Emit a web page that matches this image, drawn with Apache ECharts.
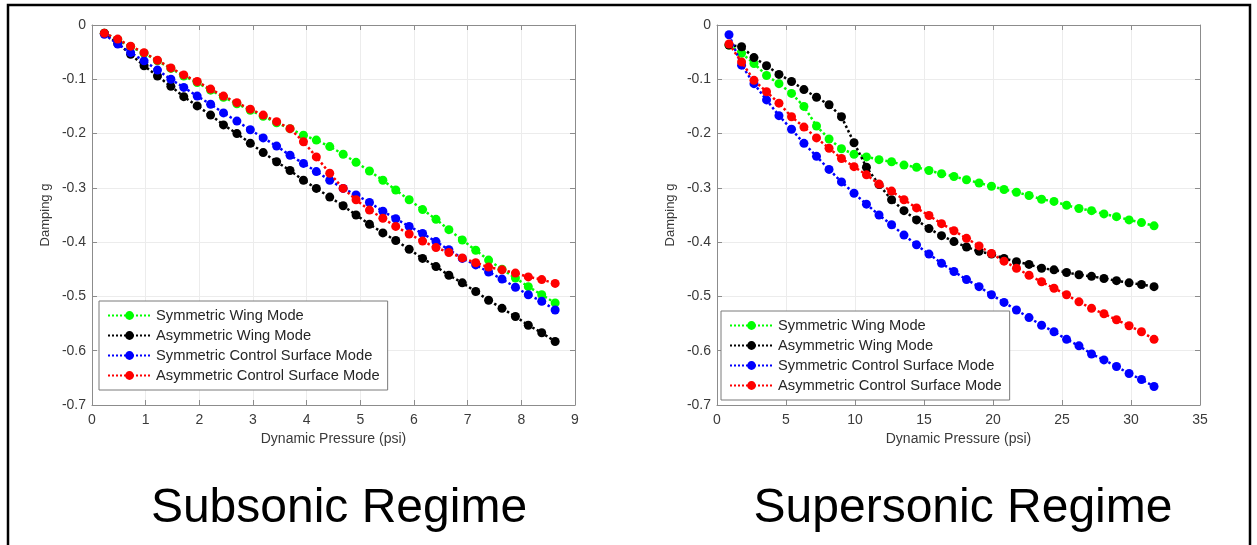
<!DOCTYPE html>
<html>
<head>
<meta charset="utf-8">
<script src="https://cdn.jsdelivr.net/npm/echarts@6/dist/echarts.min.js"></script>
<style>
html,body{margin:0;padding:0;background:#fff;}
#chart{width:1257px;height:545px;}
</style>
</head>
<body>
<div id="chart"></div>
<script>
// ---------- DATA ----------
var seriesNames = ['Symmetric Wing Mode', 'Asymmetric Wing Mode', 'Symmetric Control Surface Mode', 'Asymmetric Control Surface Mode'];
var seriesColors = ['#00ff00', '#000000', '#0000ff', '#ff0000'];

var panelTitles = ['Subsonic Regime', 'Supersonic Regime'];
var xAxisName = 'Dynamic Pressure (psi)';
var yAxisName = 'Damping g';

// Subsonic regime
var subX = [0.23,0.48,0.72,0.97,1.22,1.47,1.71,1.96,2.21,2.45,2.70,2.95,3.19,3.44,3.69,3.94,4.18,4.43,4.68,4.92,5.17,5.42,5.66,5.91,6.16,6.41,6.65,6.90,7.15,7.39,7.64,7.89,8.13,8.38,8.63];
var subSymWing = [-0.015,-0.027,-0.040,-0.052,-0.066,-0.080,-0.094,-0.106,-0.120,-0.133,-0.145,-0.157,-0.168,-0.180,-0.191,-0.203,-0.212,-0.224,-0.238,-0.253,-0.269,-0.286,-0.304,-0.322,-0.340,-0.358,-0.377,-0.396,-0.415,-0.433,-0.450,-0.466,-0.482,-0.497,-0.512];
var subAsymWing = [-0.015,-0.034,-0.054,-0.075,-0.094,-0.113,-0.132,-0.149,-0.166,-0.184,-0.200,-0.218,-0.235,-0.252,-0.268,-0.286,-0.301,-0.317,-0.333,-0.350,-0.367,-0.383,-0.397,-0.413,-0.430,-0.445,-0.461,-0.475,-0.491,-0.507,-0.522,-0.537,-0.553,-0.567,-0.583];
var subSymCtrl = [-0.017,-0.035,-0.051,-0.066,-0.083,-0.100,-0.115,-0.131,-0.146,-0.162,-0.177,-0.193,-0.208,-0.223,-0.240,-0.255,-0.270,-0.286,-0.301,-0.313,-0.327,-0.343,-0.357,-0.371,-0.384,-0.399,-0.414,-0.430,-0.442,-0.455,-0.468,-0.483,-0.497,-0.509,-0.525];
var subAsymCtrl = [-0.015,-0.026,-0.039,-0.051,-0.065,-0.079,-0.092,-0.104,-0.118,-0.131,-0.143,-0.155,-0.166,-0.178,-0.191,-0.215,-0.243,-0.273,-0.301,-0.322,-0.341,-0.356,-0.371,-0.385,-0.398,-0.410,-0.419,-0.429,-0.438,-0.446,-0.451,-0.457,-0.464,-0.469,-0.476];

// Supersonic regime
var supX = [0.87,1.78,2.68,3.59,4.49,5.40,6.30,7.21,8.12,9.02,9.93,10.83,11.74,12.65,13.55,14.46,15.36,16.27,17.17,18.08,18.99,19.89,20.80,21.70,22.61,23.52,24.42,25.33,26.23,27.14,28.04,28.95,29.86,30.76,31.67];
var supSymWing = [-0.037,-0.052,-0.071,-0.093,-0.108,-0.126,-0.150,-0.186,-0.210,-0.228,-0.238,-0.243,-0.248,-0.252,-0.258,-0.262,-0.268,-0.274,-0.279,-0.285,-0.291,-0.297,-0.303,-0.308,-0.314,-0.321,-0.325,-0.332,-0.338,-0.342,-0.348,-0.353,-0.359,-0.364,-0.370];
var supAsymWing = [-0.037,-0.040,-0.060,-0.075,-0.091,-0.104,-0.119,-0.133,-0.147,-0.169,-0.217,-0.262,-0.294,-0.322,-0.342,-0.359,-0.375,-0.388,-0.399,-0.409,-0.417,-0.422,-0.430,-0.436,-0.441,-0.448,-0.451,-0.456,-0.460,-0.463,-0.467,-0.471,-0.475,-0.478,-0.482];
var supSymCtrl = [-0.018,-0.074,-0.108,-0.138,-0.167,-0.192,-0.218,-0.242,-0.266,-0.289,-0.310,-0.330,-0.350,-0.368,-0.387,-0.405,-0.422,-0.439,-0.454,-0.469,-0.482,-0.497,-0.511,-0.525,-0.539,-0.553,-0.565,-0.579,-0.591,-0.606,-0.617,-0.629,-0.642,-0.653,-0.666];
var supAsymCtrl = [-0.035,-0.068,-0.102,-0.123,-0.144,-0.169,-0.188,-0.208,-0.227,-0.246,-0.261,-0.276,-0.293,-0.306,-0.322,-0.337,-0.351,-0.366,-0.379,-0.393,-0.407,-0.421,-0.435,-0.448,-0.461,-0.473,-0.485,-0.497,-0.510,-0.522,-0.532,-0.543,-0.554,-0.565,-0.579];

var subXTicks = {min: 0, max: 9, interval: 1};
var supXTicks = {min: 0, max: 35, interval: 5};
var yTicks = {min: -0.7, max: 0, interval: 0.1};

// ---------- BUILD ----------
var panels = [
  {x: subX, ys: [subSymWing, subAsymWing, subSymCtrl, subAsymCtrl], xt: subXTicks, left: 92, legendLeft: 99, legendTop: 301, titleX: 339},
  {x: supX, ys: [supSymWing, supAsymWing, supSymCtrl, supAsymCtrl], xt: supXTicks, left: 717, legendLeft: 721, legendTop: 311, titleX: 963}
];

var FONT = '"Liberation Sans", Arial, Helvetica, sans-serif';
var axisGray = '#8c8c8c';
var labelColor = '#3a3a3a';
var gridColor = '#ececec';

var option = {
  animation: false,
  backgroundColor: '#ffffff',
  textStyle: {fontFamily: FONT},
  grid: [], xAxis: [], yAxis: [], series: [], legend: [], graphic: []
};

panels.forEach(function (p, pi) {
  option.grid.push({left: p.left, top: 25, width: 483, height: 380, show: false});
  option.xAxis.push({
    gridIndex: pi, type: 'value', position: 'bottom',
    min: p.xt.min, max: p.xt.max, interval: p.xt.interval,
    name: xAxisName, nameLocation: 'middle', nameGap: 26,
    nameTextStyle: {fontSize: 14, color: labelColor, fontFamily: FONT},
    axisLine: {show: true, onZero: false, lineStyle: {color: axisGray, width: 1}},
    axisTick: {show: true, inside: true, length: 5, lineStyle: {color: axisGray}},
    axisLabel: {fontSize: 14, color: labelColor, margin: 8, fontFamily: FONT},
    splitLine: {show: true, lineStyle: {color: gridColor, width: 1}}
  });
  option.xAxis.push({
    gridIndex: pi, type: 'value', position: 'top',
    min: p.xt.min, max: p.xt.max, interval: p.xt.interval,
    axisLine: {show: true, onZero: false, lineStyle: {color: axisGray, width: 1}},
    axisTick: {show: true, inside: true, length: 5, lineStyle: {color: axisGray}},
    axisLabel: {show: false}, splitLine: {show: false}
  });
  option.yAxis.push({
    gridIndex: pi, type: 'value', position: 'left',
    min: yTicks.min, max: yTicks.max, interval: yTicks.interval,
    name: yAxisName, nameLocation: 'middle', nameGap: 40, nameRotate: 90,
    nameTextStyle: {fontSize: 13, color: labelColor, fontFamily: FONT},
    axisLine: {show: true, onZero: false, lineStyle: {color: axisGray, width: 1}},
    axisTick: {show: true, inside: true, length: 5, lineStyle: {color: axisGray}},
    axisLabel: {fontSize: 14, color: labelColor, margin: 6, fontFamily: FONT},
    splitLine: {show: true, lineStyle: {color: gridColor, width: 1}}
  });
  option.yAxis.push({
    gridIndex: pi, type: 'value', position: 'right',
    min: yTicks.min, max: yTicks.max, interval: yTicks.interval,
    axisLine: {show: true, onZero: false, lineStyle: {color: axisGray, width: 1}},
    axisTick: {show: true, inside: true, length: 5, lineStyle: {color: axisGray}},
    axisLabel: {show: false}, splitLine: {show: false}
  });
  p.ys.forEach(function (ys, si) {
    var data = p.x.map(function (xv, k) { return [xv, ys[k]]; });
    option.series.push({
      id: 'p' + pi + 's' + si, name: seriesNames[si], type: 'line',
      xAxisIndex: pi * 2, yAxisIndex: pi * 2,
      data: data, symbol: 'circle', symbolSize: 9, showSymbol: true,
      color: seriesColors[si],
      itemStyle: {color: seriesColors[si]},
      lineStyle: {color: seriesColors[si], width: 2.5, type: 'dotted'},
      z: 2 + si
    });
  });
  option.legend.push({
    orient: 'vertical', left: p.legendLeft, top: p.legendTop,
    data: seriesNames.slice(),
    itemWidth: 43, itemHeight: 11, itemGap: 5,
    padding: [7, 8, 7, 8],
    borderColor: '#7a7a7a', borderWidth: 1, backgroundColor: '#ffffff',
    selectedMode: false,
    textStyle: {fontSize: 14.7, color: '#262626', fontFamily: FONT}
  });
  option.graphic.push({
    type: 'text', x: p.titleX, y: 509,
    style: {text: panelTitles[pi], font: '48px ' + FONT, fill: '#000', align: 'center', verticalAlign: 'middle'}
  });
});

option.graphic.push({
  type: 'rect', shape: {x: 8, y: 5, width: 1242, height: 600},
  style: {fill: null, stroke: '#000', lineWidth: 2.5}, z: 100
});

var chart = echarts.init(document.getElementById('chart'), null, {renderer: 'canvas'});
chart.setOption(option);
</script>
</body>
</html>
